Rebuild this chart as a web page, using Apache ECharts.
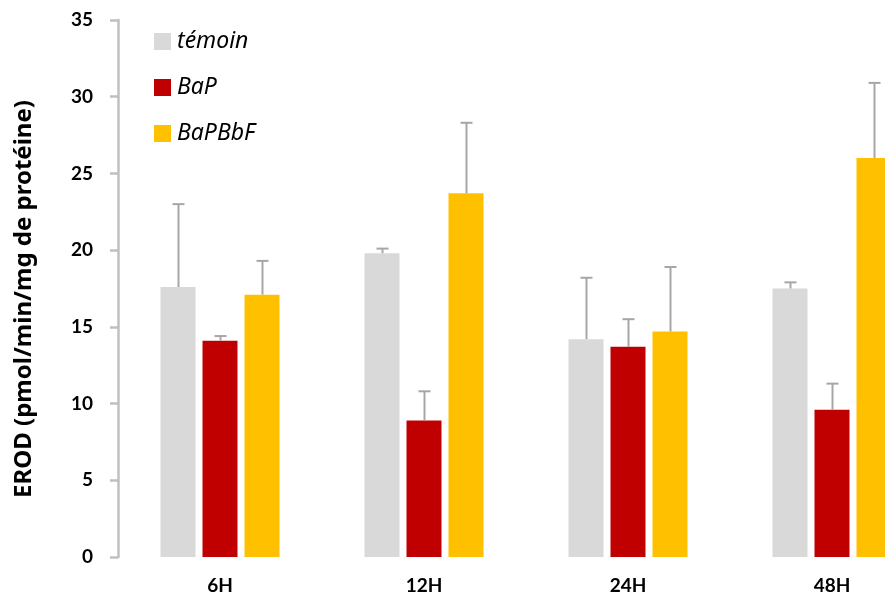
<!DOCTYPE html>
<html>
<head>
<meta charset="utf-8">
<script src="https://cdn.jsdelivr.net/npm/echarts@6/dist/echarts.min.js"></script>
<style>
html,body{margin:0;padding:0;background:#fff;overflow:hidden;width:885px;height:598px;}
#chart{width:934px;height:598px;}
</style>
</head>
<body>
<div id="chart"></div>
<script>
var categories = ['6H', '12H', '24H', '48H'];
var seriesNames = ['témoin', 'BaP', 'BaPBbF'];
var temoin = [17.6, 19.8, 14.2, 17.5];
var bap = [14.1, 8.9, 13.7, 9.6];
var bapbbf = [17.1, 23.7, 14.7, 26.0];
var temoinErr = [5.4, 0.3, 4.0, 0.4];
var bapErr = [0.3, 1.9, 1.8, 1.7];
var bapbbfErr = [2.2, 4.6, 4.2, 4.9];
var yTicks = [0, 5, 10, 15, 20, 25, 30, 35];
var yTitle = 'EROD (pmol/min/mg de protéine)';

var colors = ['#d9d9d9', '#c00000', '#ffc000'];
var values = [temoin, bap, bapbbf];
var errs = [temoinErr, bapErr, bapbbfErr];
var BAR_W = 35, BAR_GAP = 7;

function errSeries(k) {
  var data = categories.map(function (c, i) {
    return [i, values[k][i], values[k][i] + errs[k][i]];
  });
  return {
    type: 'custom',
    name: seriesNames[k] + '_err',
    data: data,
    z: 5,
    silent: true,
    renderItem: function (params, api) {
      var off = (k - 1) * (BAR_W + BAR_GAP);
      var p0 = api.coord([api.value(0), api.value(1)]);
      var p1 = api.coord([api.value(0), api.value(2)]);
      var x = Math.round(p0[0] + off) + 0.5;
      var style = { stroke: '#a6a6a6', lineWidth: 2 };
      return {
        type: 'group',
        children: [
          { type: 'line', shape: { x1: x, y1: p0[1], x2: x, y2: p1[1] }, style: style },
          { type: 'line', shape: { x1: x - 6, y1: p1[1], x2: x + 6, y2: p1[1] }, style: style }
        ]
      };
    }
  };
}

var chart = echarts.init(document.getElementById('chart'), null, { renderer: 'canvas', width: 934, height: 598 });
var series = [];
for (var k = 0; k < 3; k++) {
  series.push({
    type: 'bar',
    name: seriesNames[k],
    data: values[k],
    barWidth: BAR_W,
    barGap: '20%',
    itemStyle: { color: colors[k] },
    z: 2
  });
}
for (var k2 = 0; k2 < 3; k2++) series.push(errSeries(k2));

chart.setOption({
  animation: false,
  backgroundColor: '#ffffff',
  grid: { left: 118, right: 0, top: 20, bottom: 41, containLabel: false },
  legend: {
    data: seriesNames,
    orient: 'vertical',
    left: 149,
    top: 25,
    itemWidth: 17,
    itemHeight: 17,
    itemGap: 23,
    icon: 'rect',
    textStyle: { fontFamily: 'Noto Sans', fontStyle: 'italic', fontSize: 23, color: '#000', padding: [0, 0, 0, 1] }
  },
  graphic: [{
    type: 'text',
    x: 24,
    y: 299,
    rotation: Math.PI / 2,
    style: {
      text: yTitle,
      textAlign: 'center',
      textVerticalAlign: 'middle',
      fontFamily: 'Noto Sans',
      fontWeight: 'bold',
      fontSize: 24,
      fill: '#000'
    }
  }],
  xAxis: {
    type: 'category',
    data: categories,
    axisLine: { show: false },
    axisTick: { show: false },
    axisLabel: { margin: 19, fontFamily: 'Lato', fontWeight: 'bold', fontSize: 19, color: '#000' }
  },
  yAxis: {
    type: 'value',
    min: 0,
    max: 35,
    interval: 5,
    splitLine: { show: false },
    axisLine: { show: true, lineStyle: { color: '#c0c0c0', width: 2.5 } },
    axisTick: { show: true, inside: false, length: 8, lineStyle: { color: '#c0c0c0', width: 2.5 } },
    axisLabel: {
      margin: 25, fontFamily: 'Lato', fontWeight: 'bold', fontSize: 19, color: '#000',
      formatter: function (v) { return yTicks.indexOf(v) >= 0 ? String(v) : ''; }
    }
  },
  series: series
});
</script>
</body>
</html>
